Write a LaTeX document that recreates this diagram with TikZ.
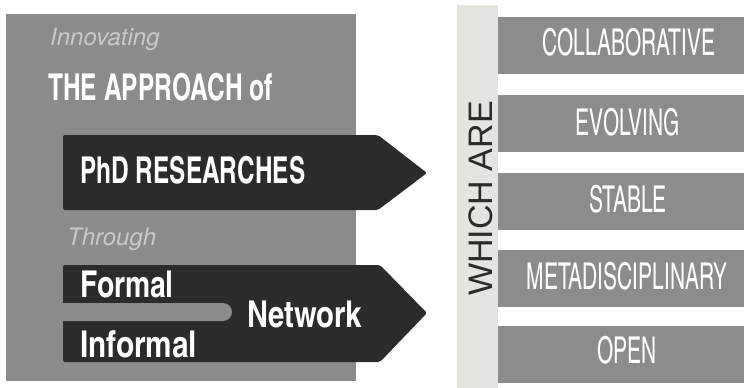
\documentclass[tikz,border=0pt]{standalone}
\usepackage{fontspec}
\usepackage{graphicx}
\setmainfont{TeX Gyre Heros}
\newfontfamily\condfont{TeX Gyre Heros Cn}
\newfontfamily\plainsans{Liberation Sans}
\definecolor{boxgray}{HTML}{8B8B8B}
\definecolor{darkfill}{HTML}{2B2B2B}
\definecolor{stripgray}{HTML}{E4E4E0}
\definecolor{bargray}{HTML}{8C8C8C}
\definecolor{softtext}{HTML}{C9C9C9}
\newcommand{\sqz}[2]{\scalebox{#1}[1]{#2}}
\tikzset{
  boldlabel/.style={anchor=base west, inner sep=0pt, text=white, font=\condfont\bfseries\fontsize{37}{37}\selectfont},
  italiclabel/.style={anchor=base west, inner sep=0pt, text=softtext, font=\itshape\fontsize{24}{24}\selectfont},
  quallabel/.style={anchor=base, inner sep=0pt, text=white, font=\condfont\fontsize{37}{37}\selectfont},
  qualbar/.style={fill=bargray, draw=none},
  arrowshape/.style={fill=darkfill, draw=none, rounded corners=2pt}
}
\begin{document}
\begin{tikzpicture}[x=1pt,y=-1pt]
\useasboundingbox (0,0) rectangle (744,388);
% left gray panel
\fill[boxgray] (6,14) rectangle (356,381);
% arrows
\fill[arrowshape] (63,135) -- (378,135) -- (427,173) -- (378,210) -- (63,210) -- cycle;
\fill[arrowshape] (63,265) -- (380,265) -- (427,313) -- (380,362) -- (63,362) -- cycle;
% slot between Formal and Informal
\fill[boxgray, rounded corners=9pt] (40,303) rectangle (232,321);
% texts on the left
\node[italiclabel] (innov) at (50,45) {Innovating};
\node[boldlabel] (appr) at (48,100) {\sqz{0.81}{THE APPROACH of}};
\node[boldlabel] (phd) at (80,183) {\sqz{0.805}{PhD RESEARCHES}};
\node[italiclabel] (through) at (67,245) {Through};
\node[boldlabel] (formal) at (80,297) {\sqz{0.93}{Formal}};
\node[boldlabel] (informal) at (80,357) {\sqz{0.98}{Informal}};
\node[boldlabel] (network) at (247,327) {\sqz{0.96}{Network}};
% right strip
\fill[stripgray] (457,5) rectangle (498,388);
\node[anchor=base, inner sep=0pt, rotate=90, text=darkfill, font=\plainsans\fontsize{34}{34}\selectfont] (which) at (492,198.5) {WHICH ARE};
% bars
\fill[qualbar] (498,17) rectangle (744,74);
\fill[qualbar] (498,95) rectangle (744,152);
\fill[qualbar] (498,173) rectangle (744,230);
\fill[qualbar] (498,250) rectangle (744,307);
\fill[qualbar] (498,326) rectangle (744,383);
\node[quallabel] (q1) at (629,55) {\sqz{0.69}{COLLABORATIVE}};
\node[quallabel] (q2) at (628,135) {\sqz{0.69}{EVOLVING}};
\node[quallabel] (q3) at (628,212) {\sqz{0.69}{STABLE}};
\node[quallabel] (q4) at (627,289) {\sqz{0.69}{METADISCIPLINARY}};
\node[quallabel] (q5) at (627,363) {\sqz{0.69}{OPEN}};
\end{tikzpicture}
\end{document}
